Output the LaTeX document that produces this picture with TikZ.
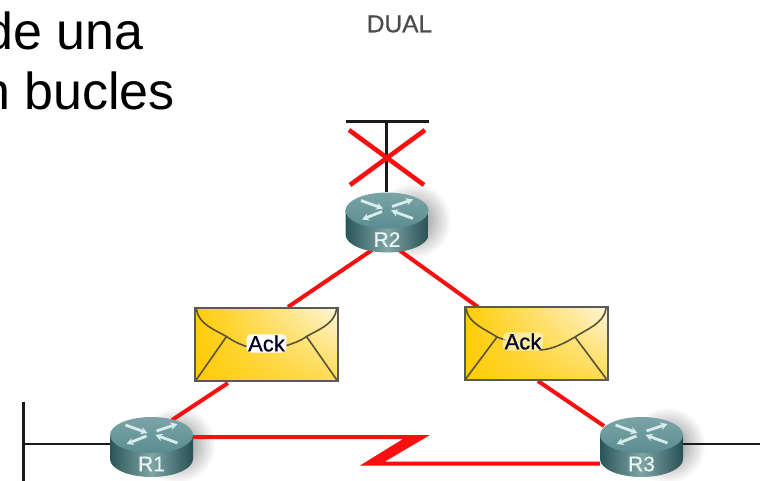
\documentclass[tikz,border=0pt]{standalone}
\usepackage{fontspec}
\setmainfont{Liberation Sans}
\newfontfamily\medfont[FakeBold=0.7]{Liberation Sans}
\usetikzlibrary{arrows.meta,shadings}
\definecolor{linkred}{HTML}{F80F0F}
\definecolor{wire}{HTML}{1A1A1A}
\definecolor{rtop}{HTML}{598D90}
\definecolor{rtoplight}{HTML}{7CA4A6}
\definecolor{rdark}{HTML}{2F5F62}
\definecolor{rmid}{HTML}{7FA5A6}
\definecolor{envgold}{HTML}{FFCC08}
\definecolor{envpale}{HTML}{FFF6DC}
\definecolor{envline}{HTML}{5A5238}
\tikzset{
  x=1pt,y=-1pt,
  routerbox/.style={rectangle,minimum width=83pt,minimum height=60pt,inner sep=0pt,draw=none},
  routerlabel/.style={text=white!92!teal,font=\medfont\fontsize{21}{21}\selectfont,inner sep=0pt},
  envbox/.style={rectangle,minimum width=143pt,minimum height=73pt,inner sep=0pt,draw=black!65,line width=2pt,
     shading=bilinear interpolation,lower left=envgold,upper left=envgold,upper right=envpale,lower right=envgold!65!envpale},
  acklabel/.style={rounded corners=4pt,inner xsep=1.5pt,inner ysep=1pt,text=black!85!blue,font=\medfont\fontsize{22}{22}\selectfont},
  redlink/.style={draw=linkred,line width=4pt,line join=miter,miter limit=20},
  redcross/.style={draw=linkred,line width=4.6pt},
  redfill/.style={fill=linkred},
  blackwire/.style={draw=wire,line width=2.4pt},
  blackbar/.style={draw=wire,line width=3pt},
  flap/.style={draw=envline,line width=1.6pt,line cap=round},
  rarrow/.style={draw=white!85!teal,line width=2.8pt,-{Stealth[length=7pt,width=7.5pt]}},
  bigtext/.style={font=\fontsize{52}{52}\selectfont,text=black,inner sep=0pt,anchor=base east},
}
\newcommand{\routerart}[1]{%
  \begin{scope}[shift={(#1.center)}]
    \path[left color=rdark!90!black,right color=rdark!85!black,middle color=rmid]
      (-41.5,-12) -- (-41.5,12) arc[start angle=180,end angle=360,x radius=41.5pt,y radius=18pt] -- (41.5,-12) -- cycle;
    \path[top color=rtoplight,bottom color=rtop]
      (0,-12) ellipse[x radius=41.5pt,y radius=18pt];
    \draw[rarrow] (-26,-22) -- (-4,-14);
    \draw[rarrow] (26,-4) -- (4,-12);
    \draw[rarrow] (5,-16) -- (26,-23);
    \draw[rarrow] (-5,-11) -- (-25,-3);
  \end{scope}}
\newcommand{\routershadow}[1]{%
  \path[inner color=black!50,outer color=white] ([shift={(26,-2)}]#1.center) ellipse[x radius=38pt,y radius=38pt];}
\begin{document}
\begin{tikzpicture}
\useasboundingbox (0,0) rectangle (760,481);
\begin{scope}
\clip (0,0) rectangle (760,481);
\fill[white] (0,0) rectangle (760,481);
% layout nodes
\node[routerbox] (R2) at (387,222.5) {};
\node[routerbox] (R1) at (151.5,447) {};
\node[routerbox] (R3) at (641.5,447) {};
\routershadow{R2}\routershadow{R1}\routershadow{R3}
% free ends of the wires
\coordinate (bar2l) at (346,122);
\coordinate (bar2r) at (429,122);
\coordinate (bar2m) at (386.5,122);
\coordinate (bar1t) at (23,402);
\coordinate (bar1b) at (23,481);
\coordinate (bar1m) at (23,444);
\coordinate (R3out) at (760,444);
\coordinate (xa) at (349,130);
\coordinate (xb) at (424,185);
\coordinate (xc) at (425,130);
\coordinate (xd) at (350,185);
\coordinate (a1) at (372,250);
\coordinate (a2) at (288,307);
\coordinate (a3) at (228,383);
\coordinate (a4) at (172,420);
\coordinate (b1) at (399,250);
\coordinate (b2) at (478,307);
\coordinate (b3) at (538,381);
\coordinate (b4) at (604,426);
% wires
\draw[blackbar] (bar2l) -- (bar2r);
\draw[blackwire] (bar2m) -- (R2.north -| bar2m);
\draw[blackbar] (bar1t) -- (bar1b);
\draw[blackwire] (bar1m) -- (R1.west |- bar1m);
\draw[blackwire] (R3.east |- R3out) -- (R3out);
\draw[redcross] (xa) -- (xb);
\draw[redcross] (xc) -- (xd);
\draw[redlink] (a1) -- (a2);
\draw[redlink] (a3) -- (a4);
\draw[redlink] (b1) -- (b2);
\draw[redlink] (b3) -- (b4);
\path[redfill] (R1.east |- 0,435) -- (430,435) -- (385,461.5) -- (R3.west |- 0,461.5)
  -- (R3.west |- 0,465.5) -- (360,465.5) -- (403,439) -- (R1.east |- 0,439) -- cycle;
% routers
\routerart{R2}\routerart{R1}\routerart{R3}
\node[routerlabel] (R2t) at ([yshift=-17pt]R2.center) {R2};
\node[routerlabel] (R1t) at ([yshift=-17pt]R1.center) {R1};
\node[routerlabel] (R3t) at ([yshift=-17pt]R3.center) {R3};
% envelopes
\node[envbox] (E1) at (266.5,344.5) {};
\begin{scope}[shift={(E1.center)}]
  \draw[flap] (-70,-35) .. controls (-68,-20) and (-50,-14) .. (-40,-8) .. controls (-33,-3) and (-26,0) .. (-20,2);
  \draw[flap] (70,-35) .. controls (68,-20) and (50,-14) .. (40,-8) .. controls (33,-3) and (26,-1) .. (20,1);
  \draw[flap] (-40,-8) -- (-70,35);
  \draw[flap] (40,-8) -- (70,35);
\end{scope}
\node[acklabel,fill=white] (A1) at ([yshift=1pt]E1.center) {Ack};
\node[envbox] (E2) at (536,343.5) {};
\begin{scope}[shift={(E2.center)}]
  \draw[flap] (-70,-35) .. controls (-68,-20) and (-50,-14) .. (-39,-6.5) -- (-31,-3.5);
  \draw[flap] (70,-35) .. controls (68,-20) and (50,-14) .. (39,-6.5) .. controls (28,0) and (16,6) .. (4,6.5);
  \draw[flap] (-39,-6.5) -- (-70,35);
  \draw[flap] (39,-6.5) -- (70,35);
\end{scope}
\node[acklabel,fill=white,fill opacity=.5,text opacity=1] (A2) at ([shift={(-13,-2)}]E2.center) {Ack};
% text
\node[bigtext] (t1) at (144,50) {de una};
\node[bigtext] (t2) at (175,110) {n bucles};
\node[font=\medfont\fontsize{24.5}{24.5}\selectfont,text=black!70,inner sep=0pt] (t3) at (399.5,24) {DUAL};
\end{scope}
\end{tikzpicture}
\end{document}
